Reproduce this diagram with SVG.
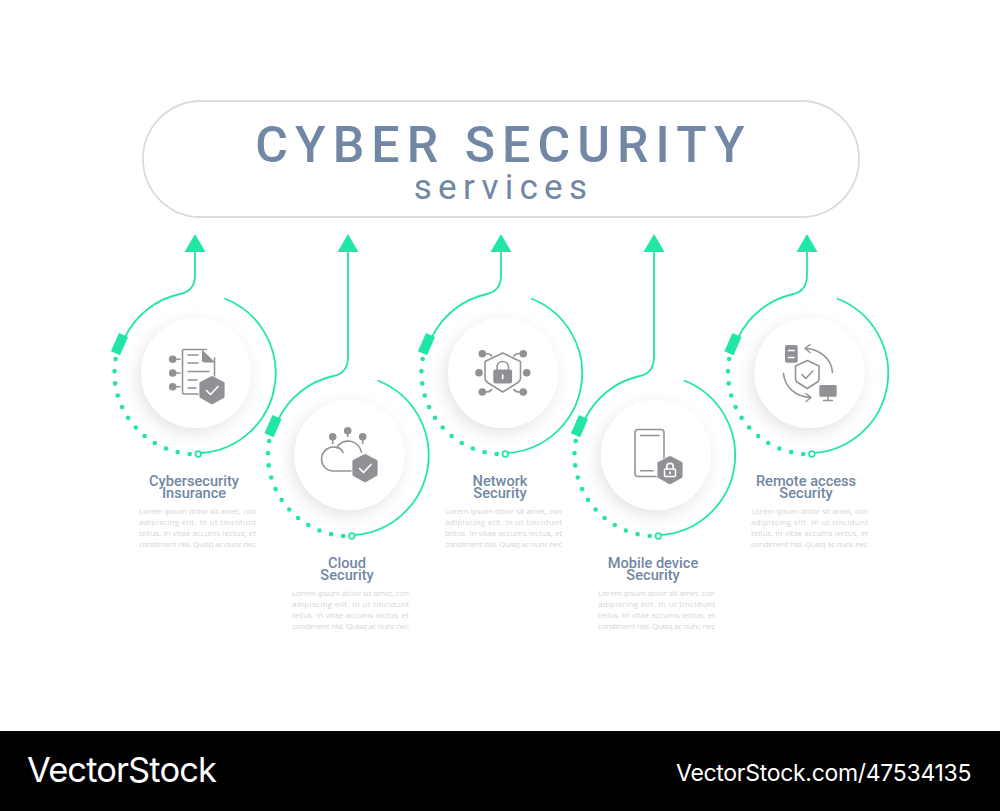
<svg xmlns="http://www.w3.org/2000/svg" width="1000" height="811" viewBox="0 0 1000 811">
<style>
.ln{fill:none;stroke:#22e6a8;stroke-width:1.8}
.band{fill:none;stroke:#22e6a8;stroke-width:10}
.dots{fill:none;stroke:#22e6a8;stroke-width:4.6;stroke-linecap:round;stroke-dasharray:0 12.3}
.ah{fill:#22e6a8}
.end{fill:#fff;stroke:#22e6a8;stroke-width:1.7}
.disc{fill:#fff;filter:url(#sh)}
.ic{fill:none;stroke:#929497;stroke-width:1.6;stroke-linecap:round;stroke-linejoin:round}
.if{fill:#8f9195}
.wl{fill:none;stroke:#fff;stroke-width:1.7;stroke-linecap:round;stroke-linejoin:round}
.t{font-family:Roboto,"Liberation Sans",sans-serif;font-weight:500;font-size:14.6px;fill:#7287a4;text-anchor:middle}
.b{font-family:"Open Sans","Noto Sans",sans-serif;font-size:8px;fill:#d3d6d9}
</style>
<defs>
<filter id="sh" x="-40%" y="-40%" width="180%" height="180%"><feDropShadow dx="-3" dy="5" stdDeviation="8" flood-color="#000" flood-opacity="0.11"/></filter>
<path id="shield" d="M-1.2-14 Q0-14.700 1.200-14L11.800-8.400Q13-7.700 13-6.400V6Q13 7.500 11.800 8.300L1.200 14.300Q0 15-1.200 14.300L-11.800 8.300Q-13 7.500-13 6V-6.400Q-13-7.700-11.800-8.400Z"/>
</defs>
<rect width="1000" height="811" fill="#fff"/>

<g id="title">
<rect x="143" y="101" width="716" height="116" rx="58" fill="#fff" stroke="#d8dcdb" stroke-width="1.800"/>
<text x="503.500" y="162" text-anchor="middle" font-family="Roboto,'Liberation Sans',sans-serif" font-weight="500" font-size="50" letter-spacing="7.100" fill="#7287a4">CYBER SECURITY</text>
<text x="503.500" y="199" text-anchor="middle" font-family="Roboto,'Liberation Sans',sans-serif" font-size="35" letter-spacing="6.300" fill="#7287a4">services</text>
</g>

<g id="connectors">
<path class="ln" d="M195 250V275C195 286 190 292 180 294A80 80 0 0 0 125 337"/>
<path class="ln" d="M224.500 298.500A80 80 0 0 1 200.500 453"/>
<path class="band" d="M115.500 353.300 123.500 335"/>
<path class="dots" d="M189.700 454A81.500 81.500 0 0 1 115.700 358.700"/>
<polygon class="ah" points="195,234 184.500,252 205.500,252"/>
<circle class="end" cx="198.300" cy="454" r="2.800"/>

<path class="ln" d="M348 250V357C348 368 343 374 333.500 376A80 80 0 0 0 278.500 419"/>
<path class="ln" d="M377.500 380.500A80 80 0 0 1 353.500 535"/>
<path class="band" d="M269 435.300 277 417"/>
<path class="dots" d="M343.200 536A81.500 81.500 0 0 1 269.200 440.700"/>
<polygon class="ah" points="348,234 337.500,252 358.500,252"/>
<circle class="end" cx="351.800" cy="536" r="2.800"/>

<path class="ln" d="M501 250V275C501 286 496 292 487 294A80 80 0 0 0 432 337"/>
<path class="ln" d="M531 298.500A80 80 0 0 1 507 453"/>
<path class="band" d="M422.500 353.300 430.500 335"/>
<path class="dots" d="M496.700 454A81.500 81.500 0 0 1 422.700 358.700"/>
<polygon class="ah" points="501,234 490.500,252 511.500,252"/>
<circle class="end" cx="505.300" cy="454" r="2.800"/>

<path class="ln" d="M654 250V357C654 368 649 374 640 376A80 80 0 0 0 585 419"/>
<path class="ln" d="M684 380.500A80 80 0 0 1 660 535"/>
<path class="band" d="M575.500 435.300 583.500 417"/>
<path class="dots" d="M649.700 536A81.500 81.500 0 0 1 575.700 440.700"/>
<polygon class="ah" points="654,234 643.500,252 664.500,252"/>
<circle class="end" cx="658.300" cy="536" r="2.800"/>

<path class="ln" d="M807 250V275C807 286 802 292 793.500 294A80 80 0 0 0 738.500 337"/>
<path class="ln" d="M837 298.500A80 80 0 0 1 813 453"/>
<path class="band" d="M729 353.300 737 335"/>
<path class="dots" d="M803.200 454A81.500 81.500 0 0 1 729.200 358.700"/>
<polygon class="ah" points="807,234 796.500,252 817.500,252"/>
<circle class="end" cx="811.800" cy="454" r="2.800"/>
</g>

<g id="node-cybersecurity-insurance">
<circle class="disc" cx="196" cy="373" r="55"/>
<path class="ic" d="M206 349.500H184Q182.500 349.500 182.500 351V392.500Q182.500 394 184 394H200M214.500 378V358"/>
<path class="if" d="M202 349.500 215 362.500H204Q202 362.500 202 360.500Z"/>
<circle class="if" cx="172.700" cy="359.300" r="3.800"/><circle class="if" cx="172.700" cy="373" r="3.800"/><circle class="if" cx="172.700" cy="386.700" r="3.800"/>
<path class="ic" d="M176 359.300H180M176 373H180M176 386.700H180M188 355H198M188 363H198M188 371.500H209M188 380H197M188 388H196"/>
<use href="#shield" class="if" x="212" y="390" stroke="#fff" stroke-width="0.800"/>
<path class="wl" d="M206.500 390.500 210.500 394.500 218 386.500"/>
<text class="t"><tspan x="194" y="486">Cybersecurity</tspan><tspan x="194" y="498">Insurance</tspan></text>
<text class="b"><tspan x="139" y="514" textLength="117">Lorem ipsum dolor sit amet, con</tspan><tspan x="139" y="525" textLength="117">adipiscing elit. In ut tincidunt</tspan><tspan x="139" y="536" textLength="117">tellus. In vitae accums lectus, et</tspan><tspan x="139" y="547" textLength="117">condiment nisl. Quisq ac nunc nec</tspan></text>
</g>

<g id="node-cloud-security">
<circle class="disc" cx="349.500" cy="455" r="55"/>
<path class="ic" d="M356 471H334.500A12 12 0 1 1 336.500 447.400C340 447.800 342 450 343 452.500M336.500 447.800A13.500 13.500 0 0 1 361.500 452.500"/>
<circle class="if" cx="332.700" cy="436.700" r="3.800"/><circle class="if" cx="347.700" cy="430.800" r="3.800"/><circle class="if" cx="362.700" cy="436.700" r="3.800"/>
<path class="ic" d="M332.700 440V443.500M347.700 434V436.500M362.700 440V443.500"/>
<use href="#shield" class="if" x="365" y="468" stroke="#fff" stroke-width="0.800"/>
<path class="wl" d="M359.500 468.500 363.500 472.500 371 464.500"/>
<text class="t"><tspan x="347" y="568">Cloud</tspan><tspan x="347" y="580">Security</tspan></text>
<text class="b"><tspan x="292" y="596" textLength="117">Lorem ipsum dolor sit amet, con</tspan><tspan x="292" y="607" textLength="117">adipiscing elit. In ut tincidunt</tspan><tspan x="292" y="618" textLength="117">tellus. In vitae accums lectus, et</tspan><tspan x="292" y="629" textLength="117">condiment nisl. Quisq ac nunc nec</tspan></text>
</g>

<g id="node-network-security">
<circle class="disc" cx="503" cy="373" r="55"/>
<path class="ic" d="M502.700 353 520.500 361.500V378Q520.500 381 518 382.500L502.700 392 487.500 382.500Q485 381 485 378V361.500Z"/>
<path class="ic" stroke-width="2" d="M497 370.500V366.500A5.800 5.800 0 0 1 508.500 366.500V370.500"/>
<rect class="if" x="493.300" y="369.500" width="18.800" height="14" rx="2"/>
<path class="wl" d="M502.700 375V378.500"/>
<circle class="if" cx="482.300" cy="353.700" r="3.800"/><circle class="if" cx="523.300" cy="353.700" r="3.800"/><circle class="if" cx="479" cy="372.700" r="3.800"/><circle class="if" cx="526.700" cy="372.700" r="3.800"/><circle class="if" cx="482.300" cy="392" r="3.800"/><circle class="if" cx="523.300" cy="392" r="3.800"/>
<path class="ic" d="M486 353.500Q490 353.500 491.500 356M519.500 353.500Q515.500 353.500 514 356M486 392Q490 392 491.500 389.500M519.500 392Q515.500 392 514 389.500"/>
<text class="t"><tspan x="500" y="486">Network</tspan><tspan x="500" y="498">Security</tspan></text>
<text class="b"><tspan x="445" y="514" textLength="117">Lorem ipsum dolor sit amet, con</tspan><tspan x="445" y="525" textLength="117">adipiscing elit. In ut tincidunt</tspan><tspan x="445" y="536" textLength="117">tellus. In vitae accums lectus, et</tspan><tspan x="445" y="547" textLength="117">condiment nisl. Quisq ac nunc nec</tspan></text>
</g>

<g id="node-mobile-device-security">
<circle class="disc" cx="656" cy="455" r="55"/>
<rect class="ic" x="635" y="429.500" width="29" height="47" rx="3"/>
<path class="ic" d="M640.500 435.500H659M640.500 470.700H653"/>
<use href="#shield" class="if" x="670" y="470" stroke="#fff" stroke-width="0.800"/>
<rect x="664.500" y="469" width="11" height="7.500" rx="1" fill="none" stroke="#fff" stroke-width="1.500"/>
<path class="wl" stroke-width="1.500" d="M666.800 469V466.500A3.200 3.200 0 0 1 673.200 466.500V469M670 472V473.500"/>
<text class="t"><tspan x="653" y="568">Mobile device</tspan><tspan x="653" y="580">Security</tspan></text>
<text class="b"><tspan x="598" y="596" textLength="117">Lorem ipsum dolor sit amet, con</tspan><tspan x="598" y="607" textLength="117">adipiscing elit. In ut tincidunt</tspan><tspan x="598" y="618" textLength="117">tellus. In vitae accums lectus, et</tspan><tspan x="598" y="629" textLength="117">condiment nisl. Quisq ac nunc nec</tspan></text>
</g>

<g id="node-remote-access-security">
<circle class="disc" cx="809.500" cy="373" r="55"/>
<rect class="if" x="785" y="345" width="12.700" height="17.700" rx="2"/>
<path class="wl" d="M788.500 350.500H794M788.500 357.500H794"/>
<path class="ic" d="M807.300 360.500 819 366V379Q819 381 817.500 382L807.300 388.500 797 382Q795.500 381 795.500 379V366Z"/>
<path class="ic" d="M802 374.500 805.800 378.500 812.800 371"/>
<path class="ic" d="M805.500 348.500C820 349 831.500 359 832.500 372.500M810 344.500 805 348.500 810 352.500"/>
<path class="ic" d="M783.500 373.500C784.500 387 796 397 810.500 397.500M806 393.500 811 397.500 806 401.500"/>
<rect class="if" x="819.300" y="385" width="17.400" height="11.700" rx="1.500"/>
<path class="ic" d="M828 396.700V400M823.500 400.500H832.500"/>
<text class="t"><tspan x="806" y="486">Remote access</tspan><tspan x="806" y="498">Security</tspan></text>
<text class="b"><tspan x="751" y="514" textLength="117">Lorem ipsum dolor sit amet, con</tspan><tspan x="751" y="525" textLength="117">adipiscing elit. In ut tincidunt</tspan><tspan x="751" y="536" textLength="117">tellus. In vitae accums lectus, et</tspan><tspan x="751" y="547" textLength="117">condiment nisl. Quisq ac nunc nec</tspan></text>
</g>

<g id="watermark">
<rect y="731" width="1000" height="80" fill="#000"/>
<text x="27" y="782" font-family="Inter,'Liberation Sans',sans-serif" font-size="34.500" letter-spacing="-0.900" fill="#fff">VectorStock</text>
<text x="676" y="781" font-family="Inter,'Liberation Sans',sans-serif" font-size="23" letter-spacing="-0.300" fill="#fff">VectorStock.com/47534135</text>
</g>
</svg>
